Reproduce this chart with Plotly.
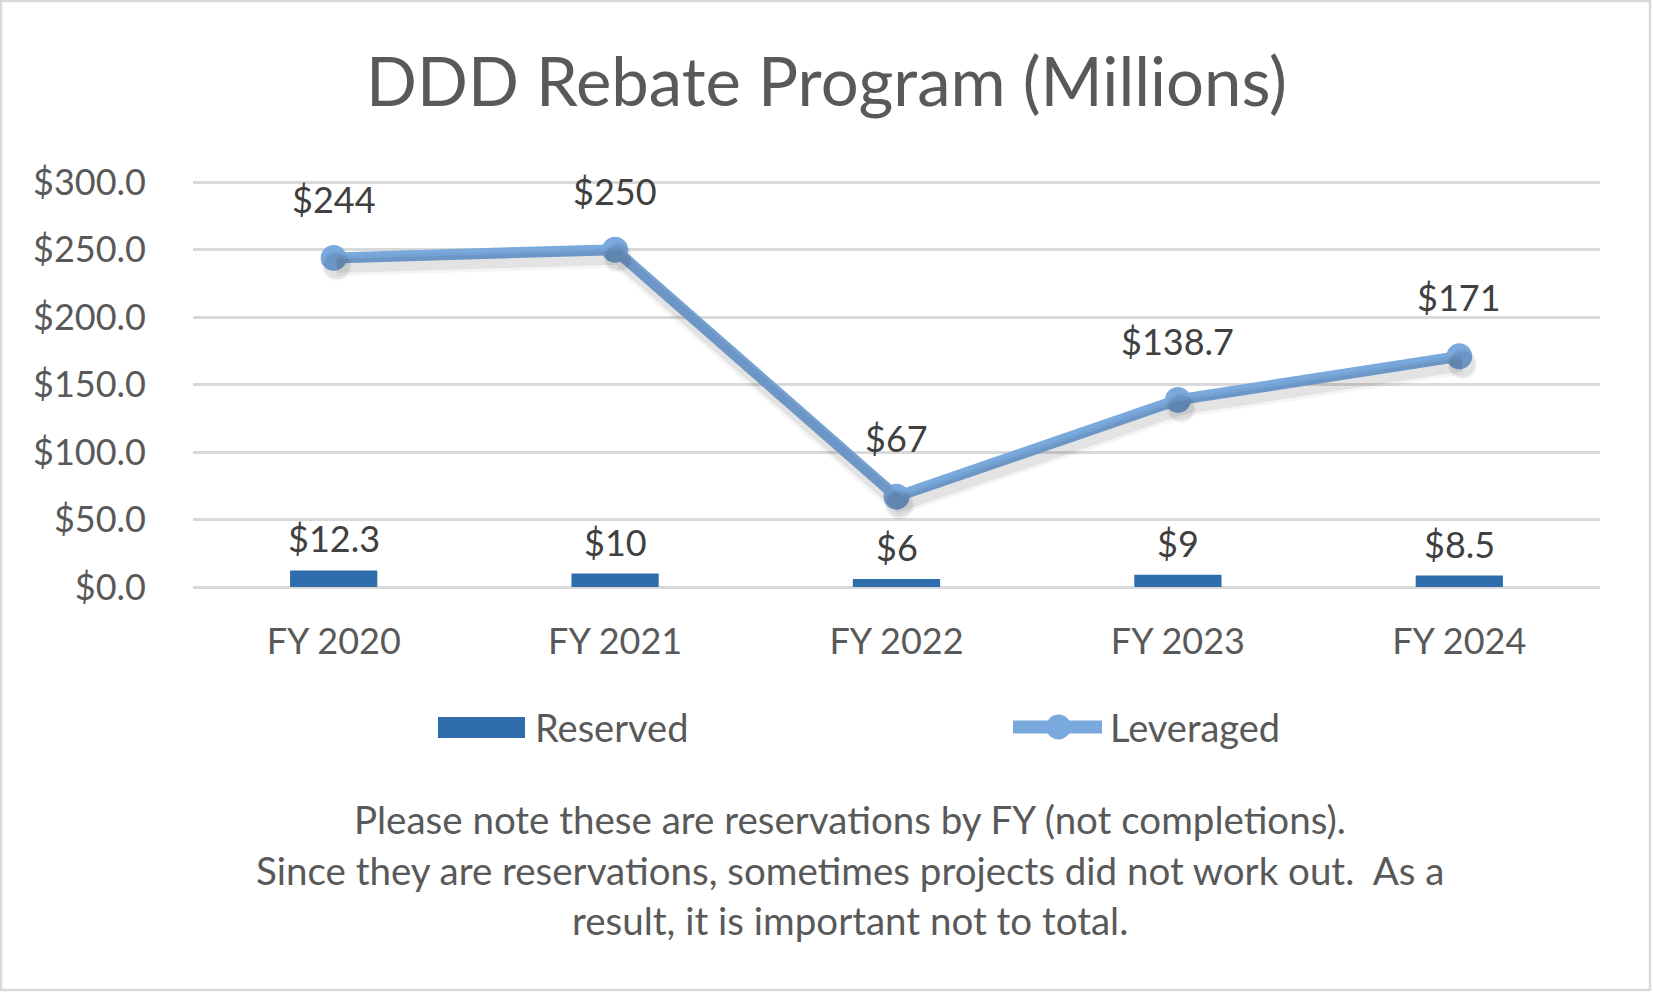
import plotly.graph_objects as go

categories = ["FY 2020", "FY 2021", "FY 2022", "FY 2023", "FY 2024"]
reserved = [12.3, 10, 6, 9, 8.5]
leveraged = [244, 250, 67, 138.7, 171]
y_ticks = [0, 50, 100, 150, 200, 250, 300]
title_text = "DDD Rebate Program (Millions)"
note_lines = [
    "Please note these are reservations by FY (not completions).",
    "Since they are reservations, sometimes projects did not work out.&nbsp; As a",
    "result, it is important not to total.",
]
series_names = ["Reserved", "Leveraged"]

FONT = "Lato, 'Open Sans', sans-serif"
GRAY = "#595959"
LABEL = "#404040"
BAR_COLOR = "#2e6cab"
LINE_COLOR = "#7aa9dd"

W, H = 1653, 993
L, R, T, B = 193, 53, 181, 406
PH = H - T - B
PW = W - L - R
YMAX = 301


def px_x(X):
    return (X - L) / PW


def px_y(Y):
    return (T + PH - Y) / PH


fig = go.Figure()

fig.add_trace(go.Bar(
    x=categories, y=reserved, name=series_names[0],
    marker=dict(color=BAR_COLOR, line=dict(width=0)),
    width=0.31, hoverinfo="x+y", showlegend=False,
))

# soft drop shadow of the line: same data on slightly shifted overlay axes
dx = 3 / (PW / 5)
dy = 8 / (PH / YMAX)
for lw, ms, a in [(20, 30, 0.04), (14, 26, 0.07)]:
    fig.add_trace(go.Scatter(
        x=list(range(len(categories))), y=leveraged, mode="lines+markers",
        line=dict(color=f"rgba(0,0,0,{a})", width=lw),
        marker=dict(size=ms, color=f"rgba(0,0,0,{a})"),
        xaxis="x2", yaxis="y2", showlegend=False, hoverinfo="skip",
    ))

fig.add_trace(go.Scatter(
    x=categories, y=leveraged, name=series_names[1], mode="lines+markers",
    line=dict(color=LINE_COLOR, width=11),
    marker=dict(size=26, color=LINE_COLOR), showlegend=False,
))

for c, v in zip(categories, leveraged):
    fig.add_annotation(x=c, y=v, text=f"${v:g}", showarrow=False,
                       yshift=59, yanchor="middle",
                       font=dict(family=FONT, size=36, color=LABEL))
for c, v in zip(categories, reserved):
    fig.add_annotation(x=c, y=v, text=f"${v:g}", showarrow=False,
                       yshift=32, yanchor="middle",
                       font=dict(family=FONT, size=36, color=LABEL))

# footnote
note_y = [819, 870, 920]
for line, yp in zip(note_lines, note_y):
    fig.add_annotation(xref="paper", yref="paper", x=px_x(850),
                       y=px_y(yp), text=line, showarrow=False,
                       xanchor="center", yanchor="middle",
                       font=dict(family=FONT, size=38.5, color=GRAY))

# legend (drawn to mimic the wide swatches of the original)
LEG_Y = 727
fig.add_shape(type="rect", xref="paper", yref="paper",
              x0=px_x(438), x1=px_x(525), y0=px_y(738), y1=px_y(717),
              fillcolor=BAR_COLOR, line=dict(width=0))
fig.add_annotation(xref="paper", yref="paper", x=px_x(533), y=px_y(LEG_Y),
                   text=series_names[0], showarrow=False, xanchor="left",
                   yanchor="middle", font=dict(family=FONT, size=38, color=GRAY))
fig.add_shape(type="line", xref="paper", yref="paper",
              x0=px_x(1013), x1=px_x(1102), y0=px_y(LEG_Y), y1=px_y(LEG_Y),
              line=dict(color=LINE_COLOR, width=13))
fig.add_shape(type="circle", xref="paper", yref="paper",
              x0=px_x(1046), x1=px_x(1071), y0=px_y(739.5), y1=px_y(714.5),
              fillcolor=LINE_COLOR, line=dict(width=0))
fig.add_annotation(xref="paper", yref="paper", x=px_x(1108), y=px_y(LEG_Y),
                   text=series_names[1], showarrow=False, xanchor="left",
                   yanchor="middle", font=dict(family=FONT, size=38, color=GRAY))

# outer chart border
fig.add_shape(type="rect", xref="paper", yref="paper",
              x0=px_x(1), x1=px_x(W - 3), y0=px_y(H - 3), y1=px_y(1),
              line=dict(color="#d9d9d9", width=2.5), layer="below")

fig.update_layout(
    width=W, height=H,
    margin=dict(l=L, r=R, t=T, b=B),
    paper_bgcolor="white", plot_bgcolor="white",
    title=dict(text=title_text, x=0.5, xref="container", xanchor="center",
               y=1 - 83 / H, yref="container", yanchor="middle",
               font=dict(family=FONT, size=67, color=GRAY)),
    font=dict(family=FONT, color=GRAY),
    xaxis=dict(type="category", range=[-0.5, 4.5], showgrid=False,
               showline=False, zeroline=False, ticks="",
               tickfont=dict(family=FONT, size=36, color=GRAY),
               ticklabelstandoff=30),
    yaxis=dict(range=[0, YMAX], tickvals=y_ticks, tickformat="$,.1f",
               showgrid=True, gridcolor="#d9d9d9", gridwidth=2.5,
               zeroline=True, zerolinecolor="#d9d9d9", zerolinewidth=3,
               showline=False, ticks="",
               tickfont=dict(family=FONT, size=36, color=GRAY),
               ticklabelstandoff=46),
    xaxis2=dict(overlaying="x", range=[-0.5 - dx, 4.5 - dx], visible=False),
    yaxis2=dict(overlaying="y", range=[0 + dy, YMAX + dy], visible=False),
    showlegend=False,
)

fig.write_html("out.html",
               config={"displayModeBar": False},
               post_script="document.body.style.margin='0';"
                           "document.body.style.overflow='hidden';")
